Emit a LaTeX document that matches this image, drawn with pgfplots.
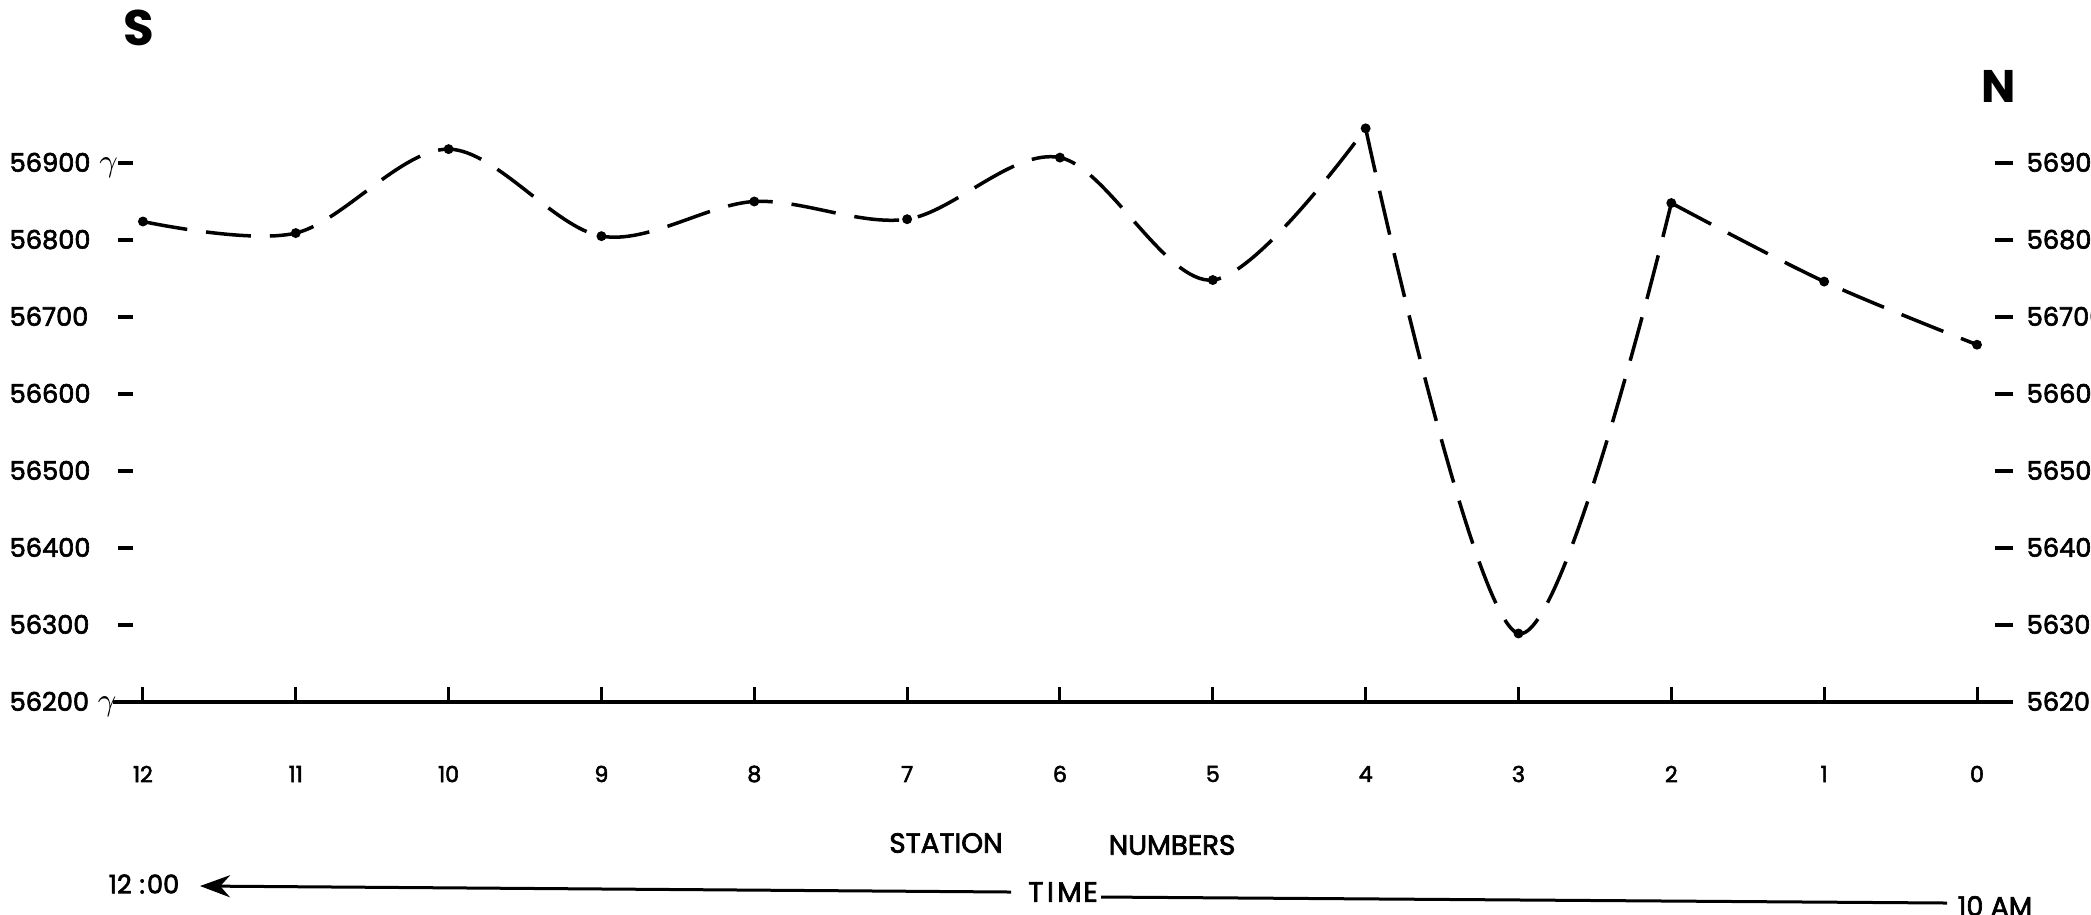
\documentclass[border=0pt]{standalone}
\usepackage{pgfplots}
\pgfplotsset{compat=1.18}
\usepackage{fontspec}
\setmainfont{Poppins}
\newfontfamily\lab[FakeBold=2.5]{Poppins}
\usetikzlibrary{arrows.meta}
\newcommand{\gam}{{\fontsize{9.5}{9}\selectfont$\gamma$}}
\begin{document}
\begin{tikzpicture}
\useasboundingbox (0,0) rectangle (209.1mm,91.4mm);
\pgfplotsset{
  commonax/.style={
    at={(11.3mm,21.2mm)}, anchor=south west,
    scale only axis, width=189.7mm, height=61.6mm,
    xmin=-0.216, xmax=12.196, x dir=reverse,
    ymin=56200, ymax=57000, clip=false,
    ytick={56200,56300,...,56900},
    scaled y ticks=false,
    /pgf/number format/assume math mode=true,
  }
}
% right-hand scale
\begin{axis}[commonax,
  axis y line*=right, axis x line=none,
  y axis line style={draw=none},
  xtick=\empty,
  tick align=center, major tick length=1.8mm,
  ytick style={black, line width=0.45mm, xshift=-0.6mm},
  yticklabels={56200,56300,56400,56500,56600,56700,56800,56900},
  yticklabel style={anchor=west, inner sep=0pt, xshift=0.7mm,
     font=\lab\fontsize{7.3}{8}\selectfont, text height=5pt, text depth=0pt},
]
\end{axis}
% main axis
\begin{axis}[commonax,
  axis lines*=left,
  y axis line style={draw=none},
  x axis line style={line width=0.4mm},
  tick align=inside, major tick length=1.5mm,
  xtick={0,...,12},
  xticklabels={0,1,2,3,4,5,6,7,8,9,10,11,12},
  xtick style={black, line width=0.3mm},
  xticklabel style={anchor=center, inner sep=0pt, yshift=-7.2mm,
     font=\lab\fontsize{6.3}{7}\selectfont},
  ytick style={black, line width=0.45mm, xshift=0.5mm},
  yticklabels={56200\hspace{2.5pt}\gam,56300,56400,56500,56600,56700,56800,56900\hspace{2.5pt}\gam},
  yticklabel style={anchor=west, inner sep=0pt, xshift=-10.4mm,
     font=\lab\fontsize{7.3}{8}\selectfont, text height=5pt, text depth=0pt},
]
\addplot[smooth, tension=0.55, line width=0.35mm, dash pattern=on 4.5mm off 1.9mm] coordinates {
(12,56824)(11,56809)(10,56918)(9,56805)(8,56850)(7,56827)(6,56907)(5,56748)(4,56945)};
\addplot[smooth, tension=0.55, line width=0.35mm, dash pattern=on 4.5mm off 1.9mm] coordinates {
(4,56945)(3,56289)(2,56848)};
\addplot[smooth, tension=0.55, line width=0.35mm, dash pattern=on 4.5mm off 1.9mm] coordinates {
(2,56848)(1,56746)(0,56664)};
\addplot[only marks, mark=*, mark size=1.2pt] coordinates {
(12,56824)(11,56809)(10,56918)(9,56805)(8,56850)(7,56827)(6,56907)(5,56748)(4,56945)(3,56289)(2,56848)(1,56746)(0,56664)};
\end{axis}
\begin{scope}[shift={(0mm,91.4mm)}, x=0.1mm, y=-0.1mm]
\node[font=\bfseries\fontsize{14.2}{16}\selectfont, inner sep=0pt] at (139,28) {S};
\node[font=\bfseries\fontsize{13}{15}\selectfont, inner sep=0pt] at (1999,86) {N};
\node[font=\lab\fontsize{7.9}{9}\selectfont, inner sep=0pt] at (946,843) {STATION};
\node[font=\lab\fontsize{7.9}{9}\selectfont, inner sep=0pt] at (1172,845) {NUMBERS};
\node[font=\lab\fontsize{8}{9}\selectfont, inner sep=0pt] at (1063,892) {T\hspace{1pt}I\hspace{1pt}M\hspace{0.5pt}E};
\node[font=\lab\fontsize{7.3}{8}\selectfont, inner sep=0pt] at (144,884) {12\hspace{0.3em}:\hspace{0.08em}00};
\node[font=\lab\fontsize{7.7}{8}\selectfont, inner sep=0pt, anchor=west] at (1957,906) {10 AM};
\draw[line width=0.3mm, -{Stealth[length=3mm,width=2.2mm]}] (1011,892) -- (200,886);
\draw[line width=0.3mm] (1101,897) -- (1947,903);
\end{scope}
\end{tikzpicture}
\end{document}
